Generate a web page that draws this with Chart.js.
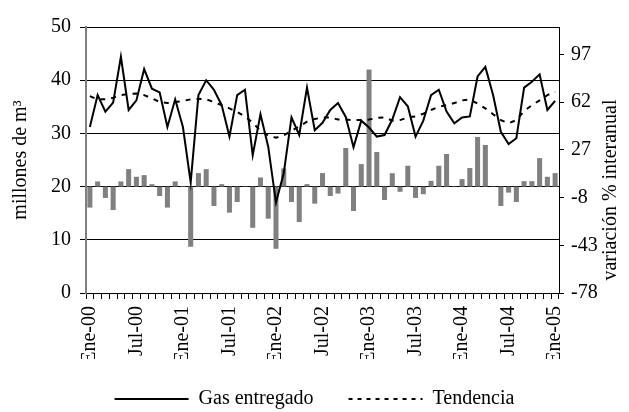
<!DOCTYPE html>
<html>
<head>
<meta charset="utf-8">
<script src="https://cdn.jsdelivr.net/npm/chart.js@4"></script>
<style>
  html, body { margin: 0; padding: 0; background: #fff; }
  #wrap { width: 629px; height: 412px; }
</style>
</head>
<body>
<div id="wrap"><canvas id="grafico"></canvas></div>
<script>
// meses Ene-00 .. Ene-05
var meses = [
  'Ene-00','Feb-00','Mar-00','Abr-00','May-00','Jun-00','Jul-00','Ago-00','Sep-00','Oct-00','Nov-00','Dic-00',
  'Ene-01','Feb-01','Mar-01','Abr-01','May-01','Jun-01','Jul-01','Ago-01','Sep-01','Oct-01','Nov-01','Dic-01',
  'Ene-02','Feb-02','Mar-02','Abr-02','May-02','Jun-02','Jul-02','Ago-02','Sep-02','Oct-02','Nov-02','Dic-02',
  'Ene-03','Feb-03','Mar-03','Abr-03','May-03','Jun-03','Jul-03','Ago-03','Sep-03','Oct-03','Nov-03','Dic-03',
  'Ene-04','Feb-04','Mar-04','Abr-04','May-04','Jun-04','Jul-04','Ago-04','Sep-04','Oct-04','Nov-04','Dic-04',
  'Ene-05'
];

// millones de m3
var gasEntregado = [
  31.2, 37.2, 34.1, 35.8, 44.4, 34.4, 36.2, 42.1, 38.4, 37.7, 31.2, 36.4,
  31.2, 20.8, 37.2, 40.0, 38.2, 35.3, 29.4, 37.2, 38.2, 25.9, 33.6, 27.5,
  17.0, 22.5, 33.0, 29.7, 38.6, 30.6, 32.0, 34.4, 35.7, 33.1, 27.4, 32.4,
  31.1, 29.4, 29.7, 32.6, 36.8, 35.1, 29.4, 32.4, 37.2, 38.2, 34.1, 31.9,
  33.0, 33.2, 40.7, 42.5, 37.2, 30.3, 28.0, 29.1, 38.6, 39.7, 41.1, 34.4,
  36.1
];

var tendencia = [
  37.0, 36.4, 36.4, 36.7, 37.2, 37.4, 37.5, 37.2, 36.6, 35.9, 35.7, 35.9,
  36.1, 36.4, 36.5, 36.4, 35.9, 35.3, 34.7, 34.0, 33.2, 32.0, 30.5, 29.6,
  29.2, 29.6, 30.5, 31.3, 32.2, 32.7, 33.0, 33.0, 32.6, 32.6, 32.5, 32.5,
  32.6, 32.9, 33.0, 32.4, 32.5, 33.0, 33.2, 33.7, 34.4, 35.0, 35.3, 35.7,
  36.2, 36.4, 35.6, 34.7, 33.6, 32.5, 31.9, 32.5, 34.2, 35.3, 36.2, 37.2,
  37.8
];

// variación % interanual (eje derecho)
var variacion = [
  -15.4, 3.8, -8.3, -17.2, 3.8, 12.8, 7.2, 8.4, 1.8, -6.9, -15.4, 3.8,
  0.5, -44.1, 9.9, 12.8, -14.2, 1.8, -19.1, -11.3, 0.3, -30.2, 6.7, -23.5,
  -45.6, 13.3, -11.3, -26.0, 1.8, -12.5, 9.9, -6.9, -5.1, 28.3, -17.9, 16.5,
  85.8, 25.4, -9.8, 9.8, -3.8, 15.3, -8.3, -5.6, 4.2, 15.3, 23.9, 0.3,
  5.5, 13.6, 36.4, 30.5, 0.3, -14.2, -4.4, -11.3, 4.0, 4.0, 20.9, 7.2,
  9.9
];

var ticksDerecha = [-78, -43, -8, 27, 62, 97];

var fuente = '"Liberation Serif", "Times New Roman", serif';
Chart.defaults.font.family = fuente;
Chart.defaults.font.size = 20;
Chart.defaults.color = '#000';

// el titulo del eje derecho va de abajo hacia arriba, chart.js lo pone al reves
var tituloDerecho = {
  id: 'tituloDerecho',
  afterDraw: function(chart) {
    var ctx = chart.ctx;
    var eje = chart.scales.y1;
    ctx.save();
    ctx.font = '20px ' + fuente;
    ctx.fillStyle = '#000';
    ctx.textAlign = 'center';
    ctx.textBaseline = 'middle';
    ctx.translate(eje.right - 18, 190);
    ctx.rotate(-Math.PI / 2);
    ctx.fillText('variación % interanual', 0, 0);
    ctx.restore();
  }
};

var ctx = document.getElementById('grafico').getContext('2d');
var chart = new Chart(ctx, {
  type: 'bar',
  data: {
    labels: meses,
    datasets: [{
      type: 'line',
      label: 'Gas entregado',
      data: gasEntregado,
      borderColor: '#000',
      borderWidth: 2,
      pointRadius: 0,
      tension: 0,
      yAxisID: 'y',
      order: 1
    }, {
      type: 'line',
      label: 'Tendencia',
      data: tendencia,
      borderColor: '#000',
      borderWidth: 2,
      borderDash: [5, 6],
      pointRadius: 0,
      tension: 0,
      yAxisID: 'y',
      order: 2
    }, {
      type: 'bar',
      label: 'variación',
      data: variacion,
      backgroundColor: '#808080',
      borderWidth: 0,
      categoryPercentage: 1,
      barPercentage: 0.65,
      yAxisID: 'y1',
      order: 3
    }]
  },
  options: {
    responsive: true,
    maintainAspectRatio: false,
    animation: false,
    layout: { padding: { top: 27, left: 0, right: 0, bottom: 0 } },
    plugins: {
      tooltip: { enabled: false },
      legend: {
        position: 'bottom',
        maxHeight: 53,
        labels: {
          usePointStyle: true,
          pointStyleWidth: 74,
          padding: 30,
          font: { size: 20 },
          generateLabels: function(chart) {
            return [
              { text: 'Gas entregado ', strokeStyle: '#000', fillStyle: '#000', lineWidth: 2, lineDash: [], pointStyle: 'line', datasetIndex: 0 },
              { text: 'Tendencia', strokeStyle: '#000', fillStyle: '#000', lineWidth: 2, lineDash: [4, 5], pointStyle: 'line', datasetIndex: 1 }
            ];
          }
        }
      }
    },
    scales: {
      x: {
        afterFit: function(scale) { scale.height = 66; },
        grid: { drawOnChartArea: false, drawTicks: true, tickLength: 6, color: '#000', offset: true },
        border: { color: '#000', width: 1 },
        ticks: {
          autoSkip: false,
          minRotation: 90,
          maxRotation: 90,
          padding: 7,
          callback: function(val, i) { return i % 6 === 0 ? this.getLabelForValue(val) : ''; }
        }
      },
      y: {
        position: 'left',
        min: 0,
        max: 50,
        afterFit: function(scale) { scale.width = 86; },
        ticks: { stepSize: 10, padding: 9 },
        grid: { color: '#000', lineWidth: 1, tickLength: 6 },
        border: { color: '#808080', width: 2 },
        title: { display: true, text: 'millones de m³', padding: { top: 9, bottom: 0 }, font: { size: 20 } }
      },
      y1: {
        position: 'right',
        min: -78,
        max: 117,
        afterFit: function(scale) { scale.width = 70; },
        afterBuildTicks: function(scale) {
          scale.ticks = ticksDerecha.map(function(v) { return { value: v }; });
        },
        ticks: { padding: 7 },
        grid: { drawOnChartArea: false, color: '#000', tickLength: 5 },
        border: { color: '#000', width: 1 }
      }
    }
  },
  plugins: [tituloDerecho]
});
</script>
</body>
</html>
